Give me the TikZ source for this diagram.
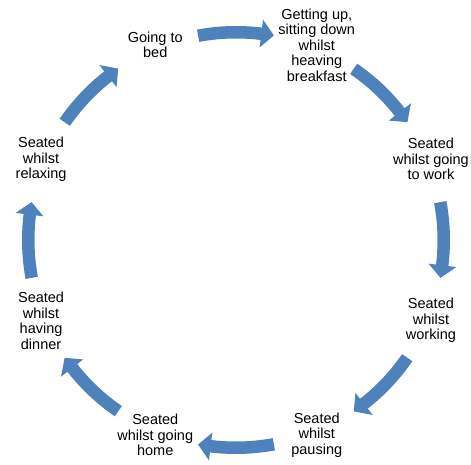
\documentclass[tikz,border=0pt]{standalone}
\usepackage{fontspec}
\setmainfont{Liberation Sans}
\usetikzlibrary{calc}
\definecolor{cycleblue}{RGB}{79,129,189}
\tikzset{
    stage/.style={align=center, inner sep=0pt, font=\fontsize{14.5}{15.5}\selectfont},
    cyclefill/.style={fill=cycleblue}
}
% one curved block arrow on the circle, centred at angle #1, running clockwise
\newcommand{\cyclearrow}[1]{%
    \fill[cyclefill] (#1+10.5:214) arc[start angle=#1+10.5, end angle=#1-7.0, radius=214]
        -- (#1-7.0:222) -- (#1-10.5:208) -- (#1-7.0:194) -- (#1-7.0:201.5)
        arc[start angle=#1-7.0, end angle=#1+10.5, radius=201.5] -- cycle;}

\begin{document}
\begin{tikzpicture}[x=1pt,y=1pt]
    \useasboundingbox (-236,-225) rectangle (235,240);

    \node[stage] (bed) at (112.5:211) {Going to\\bed};
    \node[stage] (breakfast) at (67.5:211) {Getting up,\\sitting down\\whilst\\heaving\\breakfast};
    \node[stage] (work) at (22.5:211) {Seated\\whilst going\\to work};
    \node[stage] (working) at (-22.5:211) {Seated\\whilst\\working};
    \node[stage] (pausing) at (-67.5:211) {Seated\\whilst\\pausing};
    \node[stage] (home) at (-112.5:211) {Seated\\whilst going\\home};
    \node[stage] (dinner) at (-157.5:211) {Seated\\whilst\\having\\dinner};
    \node[stage] (relaxing) at (157.5:211) {Seated\\whilst\\relaxing};

    \foreach \a in {90,45,0,-45,-90,-135,-180,-225}
        \cyclearrow{\a};
\end{tikzpicture}
\end{document}
